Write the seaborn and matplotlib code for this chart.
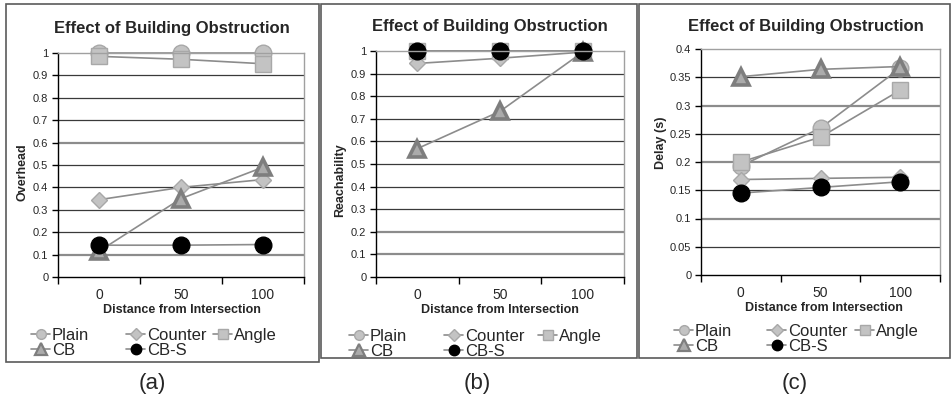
import numpy as np
import pandas as pd
import matplotlib
matplotlib.use("Agg")
import matplotlib.pyplot as plt
import seaborn as sns
from matplotlib.lines import Line2D
from matplotlib.patches import Rectangle
from matplotlib.ticker import FixedLocator

# ---------------- data ----------------
distances = ["0", "50", "100"]
series_names = ["Plain", "Counter", "Angle", "CB", "CB-S"]

overhead_plain = [1.0, 1.0, 1.0]
overhead_counter = [0.345, 0.40, 0.435]
overhead_angle = [0.985, 0.972, 0.952]
overhead_cb = [0.115, 0.35, 0.49]
overhead_cbs = [0.142, 0.142, 0.145]

reach_plain = [1.0, 1.0, 1.0]
reach_counter = [0.945, 0.968, 0.995]
reach_angle = [1.0, 1.0, 1.0]
reach_cb = [0.568, 0.733, 0.995]
reach_cbs = [1.0, 1.0, 1.0]

delay_plain = [0.193, 0.26, 0.366]
delay_counter = [0.169, 0.171, 0.173]
delay_angle = [0.2, 0.244, 0.327]
delay_cb = [0.351, 0.364, 0.369]
delay_cbs = [0.145, 0.155, 0.165]

panel_titles = ["Effect of Building Obstruction"] * 3
y_labels = ["Overhead", "Reachability", "Delay (s)"]
x_label = "Distance from Intersection"
panel_tags = ["(a)", "(b)", "(c)"]

panels = [
    [overhead_plain, overhead_counter, overhead_angle, overhead_cb, overhead_cbs],
    [reach_plain, reach_counter, reach_angle, reach_cb, reach_cbs],
    [delay_plain, delay_counter, delay_angle, delay_cb, delay_cbs],
]

# ---------------- style ----------------
sns.set_theme(style="white")
plt.rcParams["font.family"] = ["Liberation Sans", "DejaVu Sans"]

LINE = "#8C8C8C"
styles = {
    "Plain": dict(marker="o", markersize=12, markerfacecolor="#C3C3C3", markeredgecolor="#A8A8A8", markeredgewidth=1.0),
    "Counter": dict(marker="D", markersize=8.5, markerfacecolor="#C3C3C3", markeredgecolor="#A8A8A8", markeredgewidth=1.0),
    "Angle": dict(marker="s", markersize=11.5, markerfacecolor="#C3C3C3", markeredgecolor="#A8A8A8", markeredgewidth=1.0),
    "CB": dict(marker="^", markersize=12, markerfacecolor="#ABABAB", markeredgecolor="#7E7E7E", markeredgewidth=2.6),
    "CB-S": dict(marker="o", markersize=12, markerfacecolor="black", markeredgecolor="black", markeredgewidth=1.0),
}
legend_sizes = {"Plain": 7, "Counter": 6, "Angle": 7, "CB": 8.5, "CB-S": 7.5}
legend_columns = [["Plain", "CB"], ["Counter", "CB-S"], ["Angle"]]

W, H = 952, 400
fig = plt.figure(figsize=(9.52, 4.0), dpi=100)

def fx(px):
    return px / W

def fy(py):
    return 1 - py / H

# axes boxes in pixels: left, right, top, bottom
boxes = [(58, 304, 53, 277), (376, 624, 51, 277), (701, 940, 49, 275)]
ylims = [(0, 1.0), (0, 1.0), (0, 0.4)]
ysteps = [0.1, 0.1, 0.05]
light_grid = [[0.1, 0.6], [0.1, 0.2], [0.1, 0.2, 0.3]]

title_pos = [(172, 28), (490, 27), (806, 27)]
ylabel_pos = [(23, 172), (340, 180), (661, 143)]
xlabel_pos = [(182, 310), (500, 310), (824, 308)]
xtick_y = [295, 295, 293]
legend_x = [(31, 126, 213), (349, 444, 538), (674, 767, 855)]
legend_top = [328, 329, 324]
tag_pos = [(152, 383), (477, 383), (795, 383)]
frames = [(6, 4, 319, 362), (321, 4, 637, 358), (639, 4, 950, 358)]

xpos = np.arange(len(distances))

for i in range(3):
    l, r, t, b = boxes[i]
    ax = fig.add_axes([fx(l), fy(b), fx(r) - fx(l), (b - t) / H])
    for name, vals in zip(series_names, panels[i]):
        sns.lineplot(x=xpos, y=vals, ax=ax, color=LINE, linewidth=1.2,
                     legend=False, clip_on=False, **styles[name])
    ax.set_xlim(-0.5, len(distances) - 0.5)
    ax.set_ylim(*ylims[i])
    ax.set_xlabel("")
    ax.set_ylabel("")
    # y ticks / grid
    yt = np.round(np.arange(ylims[i][0], ylims[i][1] + 1e-9, ysteps[i]), 3)
    ax.set_yticks(yt)
    ax.set_yticklabels([f"{v:g}" for v in yt], fontsize=8)
    for v in yt:
        if v <= 0 or v >= ylims[i][1]:
            continue
        light = any(abs(v - lv) < 1e-6 for lv in light_grid[i])
        ax.axhline(v, color="#8C8C8C" if light else "#3A3A3A",
                   lw=1.6 if light else 0.9, zorder=0.5)
    # x ticks: labels at categories, tick marks at boundaries
    ax.set_xticks(xpos)
    ax.set_xticklabels([])
    ax.xaxis.set_minor_locator(FixedLocator(np.arange(-0.5, len(distances), 1.0)))
    ax.tick_params(axis="x", which="major", length=0)
    ax.tick_params(axis="x", which="minor", length=5, width=1, color="black", direction="out", bottom=True)
    ax.tick_params(axis="y", which="major", length=4, width=1, color="black", direction="out", left=True, pad=3)
    for k, lab in enumerate(distances):
        fig.text(fx(l + (r - l) * (k + 0.5) / len(distances)), fy(xtick_y[i]), lab,
                 ha="center", va="center", fontsize=10)
    for side in ["left", "bottom"]:
        ax.spines[side].set_color("black")
        ax.spines[side].set_linewidth(1.0)
    for side in ["top", "right"]:
        ax.spines[side].set_color("#A0A0A0")
        ax.spines[side].set_linewidth(1.0)
    ax.set_facecolor("white")
    ax.grid(False)

    # texts
    fig.text(fx(title_pos[i][0]), fy(title_pos[i][1]), panel_titles[i],
             ha="center", va="center", fontsize=12, fontweight="bold")
    fig.text(fx(ylabel_pos[i][0]), fy(ylabel_pos[i][1]), y_labels[i],
             ha="center", va="center", fontsize=9, fontweight="bold", rotation=90)
    fig.text(fx(xlabel_pos[i][0]), fy(xlabel_pos[i][1]), x_label,
             ha="center", va="center", fontsize=9, fontweight="bold")
    fig.text(fx(tag_pos[i][0]), fy(tag_pos[i][1]), panel_tags[i],
             ha="center", va="center", fontsize=16)

    # legend, one block per column
    for c, names in enumerate(legend_columns):
        handles = []
        for name in names:
            st = dict(styles[name])
            st["markersize"] = legend_sizes[name]
            if name == "CB":
                st["markeredgewidth"] = 1.6
            handles.append(Line2D([0], [0], color=LINE, linewidth=1.2, label=name, **st))
        fig.legend(handles=handles, labels=names, ncol=1, loc="upper left",
                   bbox_to_anchor=(fx(legend_x[i][c]), fy(legend_top[i])),
                   bbox_transform=fig.transFigure, frameon=False, fontsize=12,
                   handlelength=1.15, handletextpad=0.1,
                   labelspacing=0.0, borderpad=0, borderaxespad=0)

    # panel frame
    x0, y0, x1, y1 = frames[i]
    fig.add_artist(Rectangle((fx(x0), fy(y1)), fx(x1) - fx(x0), (y1 - y0) / H,
                             transform=fig.transFigure, fill=False,
                             edgecolor="#5A5A5A", linewidth=1.2))

fig.savefig("out.png", dpi=100, facecolor="white")
